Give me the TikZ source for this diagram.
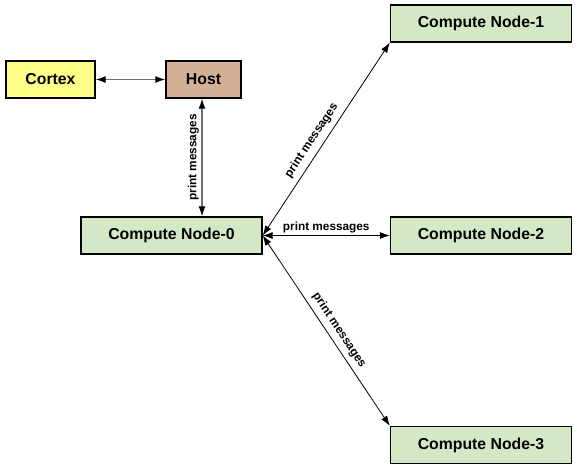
\documentclass[tikz,border=0pt]{standalone}
\usepackage{fontspec}
\setmainfont{Liberation Sans}
\usetikzlibrary{arrows.meta}
\definecolor{cortexfill}{RGB}{255,255,136}
\definecolor{hostfill}{RGB}{212,176,150}
\definecolor{nodefill}{RGB}{213,232,197}
\definecolor{linegray}{RGB}{110,110,110}
\tikzset{
  box/.style={draw=black, line width=1.4pt, rectangle, inner sep=0pt, minimum height=37pt,
    font=\fontsize{15.8}{18}\selectfont\bfseries},
  cbox/.style={box, fill=nodefill, minimum width=181pt},
  link/.style={{Latex[length=10pt,width=7pt,color=black]}-{Latex[length=10pt,width=7pt,color=black]}, line width=0.8pt, black},
  glink/.style={link, draw=linegray, line width=1.3pt},
  lbl/.style={font=\fontsize{11.8}{13}\selectfont\bfseries, inner sep=2.5pt, text=black},
}
\begin{document}
\begin{tikzpicture}[x=1pt, y=-1pt]
\useasboundingbox (0,0) rectangle (577,472);
\node[box, fill=cortexfill, minimum width=89pt] (cortex) at (50.5,79.5) {Cortex};
\node[box, fill=hostfill, minimum width=75pt] (host) at (203.5,79.5) {Host};
\node[cbox] (n0) at (171.5,235.5) {Compute Node-0};
\node[cbox] (n1) at (481,23.5) {Compute Node-1};
\node[cbox] (n2) at (481,235.5) {Compute Node-2};
\node[cbox] (n3) at (481,445) {Compute Node-3};
\draw[glink] (cortex.east) -- (host.west);
\coordinate (vtop) at ([xshift=-1.5pt]host.south);
\draw[glink] (vtop |- n0.north) -- node[lbl, midway, sloped, above] {print messages} (vtop);
\draw[link] (n0.east) -- node[lbl, pos=0.46, sloped, above=3pt] {print messages} (n1.south west);
\draw[link] (n0.east) -- node[lbl, pos=0.5, above] {print messages} (n2.west);
\draw[link] (n0.east) -- node[lbl, pos=0.53, sloped, above=2.5pt] {print messages} (n3.north west);
\end{tikzpicture}
\end{document}
